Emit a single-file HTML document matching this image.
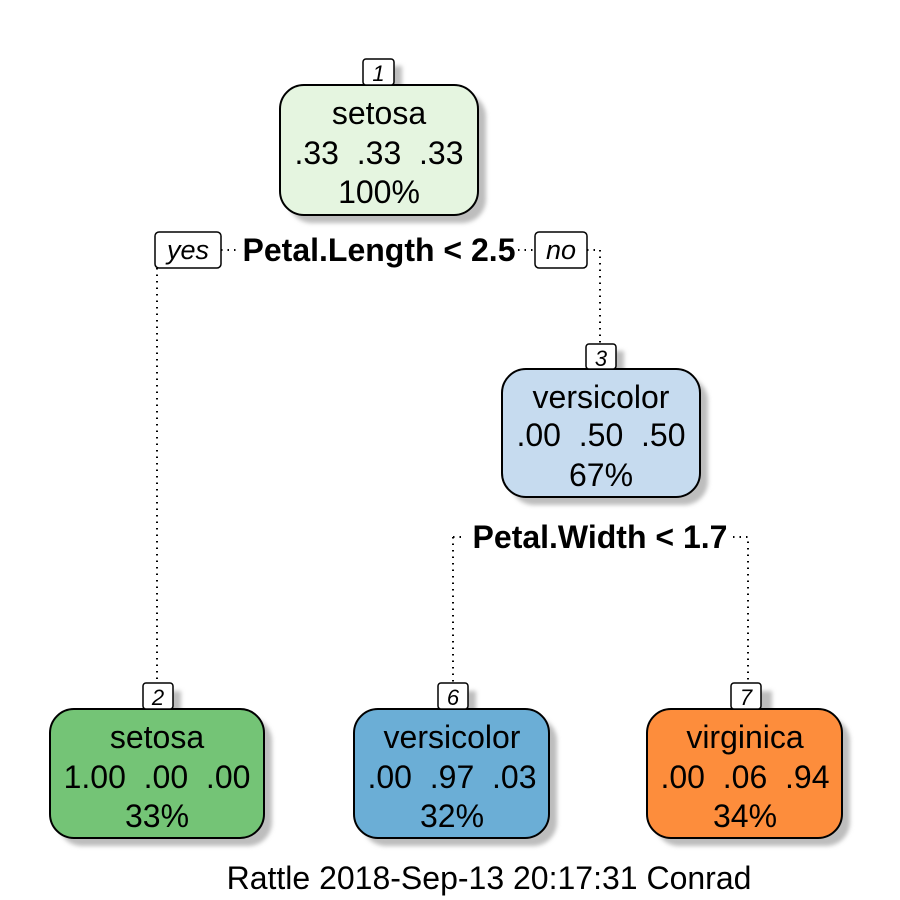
<!DOCTYPE html>
<html><head><style>html,body{margin:0;padding:0;background:#fff}svg{display:block}</style></head>
<body>
<svg width="900" height="900" viewBox="0 0 900 900" xmlns="http://www.w3.org/2000/svg" font-family="Liberation Sans, Arial, sans-serif">
<defs><filter id="b" x="-10%" y="-10%" width="130%" height="130%"><feGaussianBlur stdDeviation="2"/></filter></defs>
<g stroke="#000" stroke-width="2" stroke-dasharray="1.5,5" fill="none">
<path d="M157 268 V685"/>
<path d="M221 250 H240"/><path d="M518 250 H535"/>
<path d="M587 250 H600 V344"/>
<path d="M453 537 H466 M453 537 V683"/>
<path d="M733 537 H748 V683"/>
</g>
<g fill="#bdbdbd" filter="url(#b)">
<rect x="288" y="93" width="198" height="130" rx="24"/>
<rect x="371" y="66" width="31" height="22"/>
<rect x="510" y="377" width="198" height="128" rx="24"/>
<rect x="594" y="351" width="30" height="22"/>
<rect x="58" y="717" width="214" height="129" rx="24"/>
<rect x="151" y="691" width="30" height="22"/>
<rect x="362" y="717" width="195" height="129" rx="24"/>
<rect x="446" y="691" width="30" height="22"/>
<rect x="655" y="717" width="195" height="129" rx="24"/>
<rect x="742" y="691" width="30" height="22"/>
</g>
<g stroke="#000" stroke-width="2">
<rect x="280" y="85" width="198" height="130" rx="24" fill="#e5f5e0"/>
<rect x="502" y="369" width="198" height="128" rx="24" fill="#c6dbef"/>
<rect x="50" y="709" width="214" height="129" rx="24" fill="#74c476"/>
<rect x="354" y="709" width="195" height="129" rx="24" fill="#6baed6"/>
<rect x="647" y="709" width="195" height="129" rx="24" fill="#fd8d3c"/>
</g>
<g stroke="#000" stroke-width="1.5" fill="#fff">
<rect x="363" y="59" width="31" height="26" rx="3"/>
<rect x="586" y="344" width="30" height="25" rx="3"/>
<rect x="143" y="683" width="30" height="26" rx="3"/>
<rect x="438" y="683" width="30" height="26" rx="3"/>
<rect x="731" y="683" width="30" height="26" rx="3"/>
<rect x="155" y="232" width="66" height="36" rx="4"/>
<rect x="535" y="232" width="52" height="36" rx="4"/>
</g>
<g font-size="22" font-style="italic" text-anchor="middle">
<text x="378.5" y="81">1</text><text x="601" y="366">3</text>
<text x="158" y="705">2</text><text x="453" y="705">6</text><text x="746" y="705">7</text>
<text x="188" y="259" font-size="27">yes</text><text x="561" y="259" font-size="27">no</text>
</g>
<g font-size="32" font-weight="bold" text-anchor="middle">
<text x="379" y="261">Petal.Length &lt; 2.5</text>
<text x="600" y="548">Petal.Width &lt; 1.7</text>
</g>
<g font-size="32" text-anchor="middle" fill="#000">
<text x="379" y="124">setosa</text><text x="379" y="164" xml:space="preserve">.33  .33  .33</text><text x="379" y="203">100%</text>
<text x="601" y="408">versicolor</text><text x="601" y="446" xml:space="preserve">.00  .50  .50</text><text x="601" y="486">67%</text>
<text x="157" y="748">setosa</text><text x="157" y="788" xml:space="preserve">1.00  .00  .00</text><text x="157" y="827">33%</text>
<text x="452" y="748">versicolor</text><text x="452" y="788" xml:space="preserve">.00  .97  .03</text><text x="452" y="827">32%</text>
<text x="745" y="748">virginica</text><text x="745" y="788" xml:space="preserve">.00  .06  .94</text><text x="745" y="827">34%</text>
<text x="489" y="889">Rattle 2018-Sep-13 20:17:31 Conrad</text>
</g>
</svg>
</body></html>
